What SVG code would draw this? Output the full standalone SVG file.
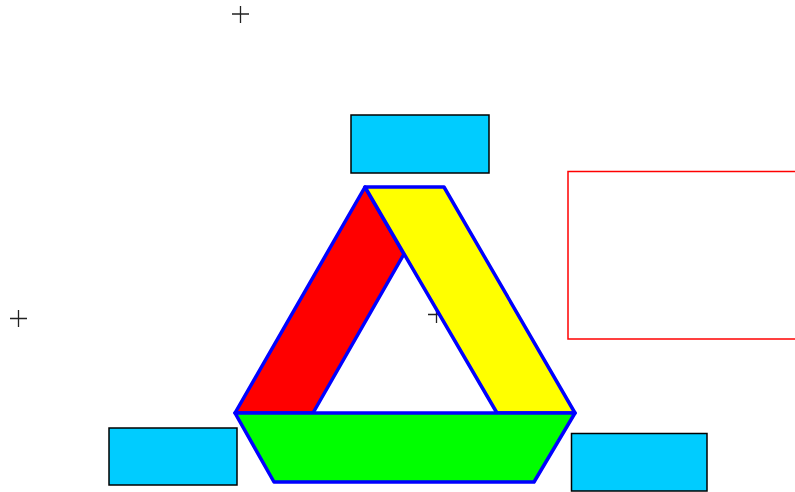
<svg xmlns="http://www.w3.org/2000/svg" width="795" height="492" viewBox="0 0 795 492">
<style>
.cross{stroke:#222;stroke-width:1.3;fill:none}
.box{fill:#00CCFF;stroke:#000;stroke-width:1.5}
.band{stroke:#0000FF;stroke-width:3.5;stroke-linejoin:round}
</style>
<rect width="795" height="492" fill="#fff"/>
<g id="crosses">
<path class="cross" d="M232,14H249M240.5,6V23"/>
<path class="cross" d="M10,318.5H27M18.5,310V327"/>
<path class="cross" d="M428,314.5H445M436.5,306V323"/>
</g>
<g id="frame"><rect x="568" y="171.5" width="240" height="167.5" fill="none" stroke="#FF0000" stroke-width="1.5"/></g>
<g id="triangle">
<polygon id="red" class="band" fill="#FF0000" points="365,187 404,254 313,413 235,413"/>
<polygon id="yellow" class="band" fill="#FFFF00" points="365,187 444,187 575,413 497,413"/>
<polygon id="green" class="band" fill="#00FF00" points="235,413 575,413 534,482 274,482"/>
</g>
<g id="box-top"><rect class="box" x="351" y="115" width="138" height="58"/></g>
<g id="box-left"><rect class="box" x="109" y="428" width="128" height="57"/></g>
<g id="box-right"><rect class="box" x="571.5" y="433.5" width="135.5" height="57.5"/></g>
</svg>
